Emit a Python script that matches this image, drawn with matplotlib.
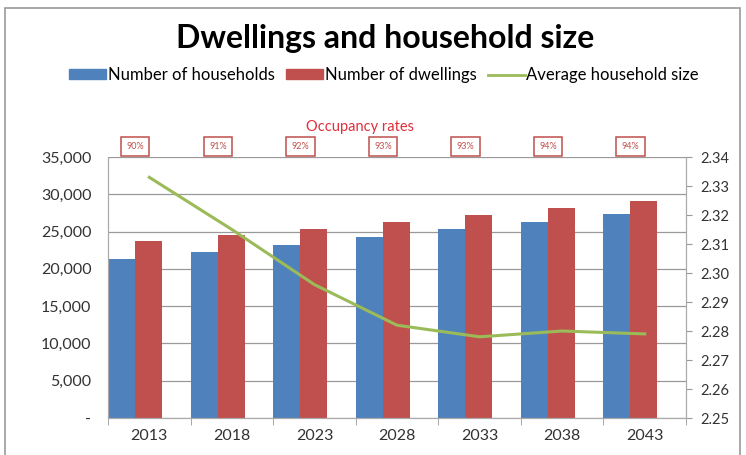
import matplotlib.pyplot as plt
from matplotlib.patches import Rectangle, Patch
from matplotlib.lines import Line2D
from matplotlib.ticker import FuncFormatter

plt.rcParams['font.family'] = ['Lato', 'DejaVu Sans']

# data
years = ['2013', '2018', '2023', '2028', '2033', '2038', '2043']
households = [21300, 22300, 23200, 24300, 25400, 26300, 27300]
dwellings = [23700, 24500, 25400, 26300, 27200, 28100, 29100]
avg_size = [2.333, 2.315, 2.296, 2.282, 2.278, 2.280, 2.279]
occupancy = ['90%', '91%', '92%', '93%', '93%', '94%', '94%']

blue = '#4F81BD'
red = '#C0504D'
green = '#9BBB59'

fig = plt.figure(figsize=(7.46, 4.55), dpi=100)
ax = fig.add_axes([0.1448, 0.0813, 0.7748, 0.5736])
ax2 = ax.twinx()

x = list(range(len(years)))
w = 0.327
ax.bar([i - 0.5 for i in x], households, width=w, align='edge', color=blue, zorder=2)
ax.bar([i - 0.5 + w for i in x], dwellings, width=w, align='edge', color=red, zorder=2)

ax2.plot(x, avg_size, color=green, lw=2.2, zorder=3)

ax.set_xlim(-0.5, 6.5)
ax.set_ylim(0, 35000)
ax.set_yticks(range(0, 35001, 5000))
ax.yaxis.set_major_formatter(FuncFormatter(lambda v, p: '-' if v == 0 else f'{int(v):,}'))
ax.set_xticks(x)
ax.set_xticklabels(years)
ax.set_xticks([i + 0.5 for i in range(-1, 7)], minor=True)
ax.tick_params(axis='x', which='major', length=0, pad=8, labelsize=11.5, colors='#333333')
ax.tick_params(axis='x', which='minor', length=5, color='#999999')
ax.tick_params(axis='y', length=0, pad=12, labelsize=11.5, colors='#333333')
ax.grid(axis='y', color='#999999', lw=0.9, zorder=0)
ax.set_axisbelow(True)

ax2.set_ylim(2.25, 2.34)
ax2.set_yticks([2.25 + 0.01 * k for k in range(10)])
ax2.yaxis.set_major_formatter(FuncFormatter(lambda v, p: f'{v:.2f}'))
ax2.tick_params(axis='y', length=4, color='#999999', pad=6, labelsize=10.5, colors='#333333')
ax2.tick_params(axis='y', color='#999999')

for a in (ax, ax2):
    a.spines['top'].set_visible(False)
    for s in ('left', 'right', 'bottom'):
        a.spines[s].set_color('#aaaaaa')

# occupancy rate boxes
for i, r in enumerate(occupancy):
    ax.text(i - 0.17, 36400, r, ha='center', va='center', fontsize=6.5, color=red,
            bbox=dict(boxstyle='square,pad=0.6', fc='white', ec=red, lw=1.1),
            clip_on=False)
fig.text(0.482, 0.72, 'Occupancy rates', ha='center', va='center', fontsize=10.5, color='#E0303A')

fig.text(0.516, 0.916, 'Dwellings and household size', ha='center', va='center',
         fontsize=23, fontweight='bold', color='black')

handles = [Patch(color=blue), Patch(color=red), Line2D([], [], color=green, lw=2)]
labels = ['Number of households', 'Number of dwellings', 'Average household size']
fig.legend(handles, labels, loc='center', bbox_to_anchor=(0.515, 0.835), ncol=3,
           frameon=False, fontsize=12, handlelength=2.2, handleheight=0.55,
           handletextpad=0.1, columnspacing=0.7)

fig.patches.append(Rectangle((0.007, -0.05), 0.985, 1.032, transform=fig.transFigure,
                             fill=False, ec='#9a9a9a', lw=1.2))

fig.savefig('out.png', dpi=100)
